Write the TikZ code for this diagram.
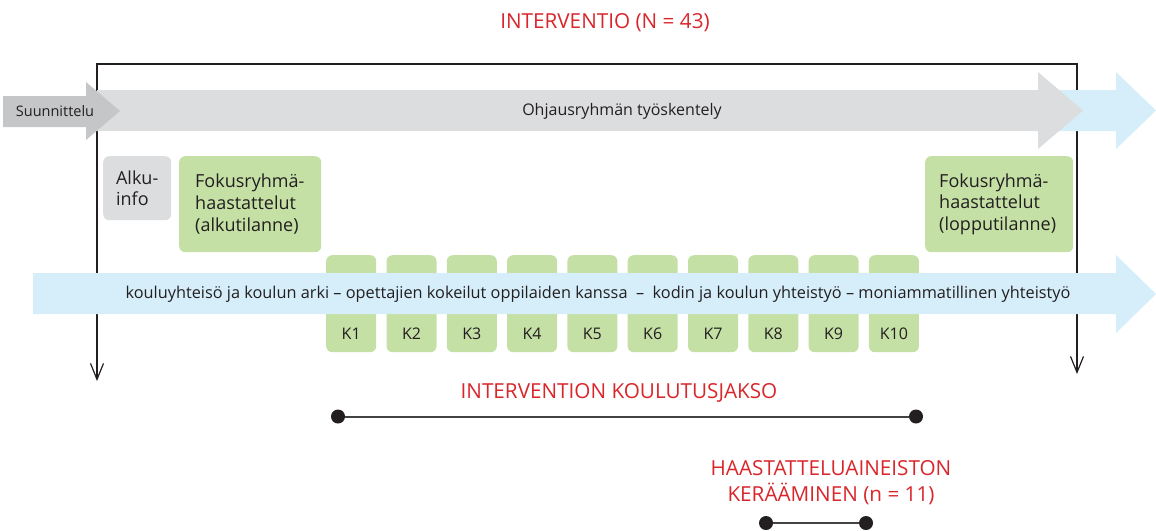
\documentclass[tikz,border=0pt]{standalone}
\usepackage{fontspec}
\setmainfont{Open Sans}
\usepackage{xcolor}
\usepackage{tikz}
\usetikzlibrary{positioning}
\usetikzlibrary{arrows.meta}
\definecolor{barGray}{HTML}{DCDDDF}
\definecolor{planGray}{HTML}{C5C6C8}
\definecolor{skyBlue}{HTML}{D5EEF9}
\definecolor{kGreen}{HTML}{C5E0A5}
\definecolor{titleRed}{HTML}{D9262B}
\definecolor{inkGray}{HTML}{231F20}
\tikzset{frame/.style = {line width=1.2pt,draw=inkGray,{Straight Barb[length=16pt,width=13pt]}-{Straight Barb[length=16pt,width=13pt]}}}

\begin{document}
\begin{tikzpicture}[x=1pt,y=-1pt,
  txt/.style={inner sep=0pt,text=inkGray,font=\fontsize{16}{19}\selectfont},
  redtxt/.style={inner sep=0pt,text=titleRed,anchor=base,align=center,font=\fontsize{20.7}{25}\selectfont},
  box/.style={rounded corners=6pt,inner ysep=0pt,anchor=north west,align=left,text=inkGray,font=\fontsize{18}{21.7}\selectfont},
  kbox/.style={fill=kGreen,rounded corners=6pt,minimum width=50pt,minimum height=97pt,anchor=north west,inner sep=0pt},
  dot/.style={circle,fill=inkGray,minimum size=14pt,inner sep=0pt},
  span/.style={line width=2pt,draw=inkGray!85}]

\useasboundingbox (0,0) rectangle (1156,530);

% frame of the intervention
\coordinate (fl) at (97,381);
\coordinate (tl) at (97,64);
\coordinate (tr) at (1077,64);
\coordinate (fr) at (1077,374);
\draw[frame] (fl) -- (tl) -- (tr) -- (fr);

% steering group arrows
\fill[skyBlue] (1040,90) -- (1116,90) -- (1116,72) -- (1156,110.5) -- (1116,149) -- (1116,131) -- (1040,131) -- cycle;
\fill[barGray] (97,90) -- (1038,90) -- (1038,72) -- (1083,110.5) -- (1038,149) -- (1038,131) -- (97,131) -- cycle;
\fill[planGray] (3,96) -- (86,96) -- (86,82) -- (120,111) -- (86,140) -- (86,127) -- (3,127) -- cycle;
\node[txt] (ohj) at (622,111) {Ohjausryhmän työskentely};
\node[txt,font=\fontsize{14.5}{17}\selectfont] (suun) at (55,111) {Suunnittelu};

% interviews
\node[box,fill=barGray,minimum height=64pt,minimum width=68pt,inner xsep=0pt] (alku) at (103,156) {Alku-\\info};
\node[box,fill=kGreen,minimum height=96pt,text width=110pt,inner xsep=16pt] (fokA) at (179,156) {Fokusryhmä-\\haastattelut\\(alkutilanne)};
\node[box,fill=kGreen,minimum height=96pt,text width=120pt,inner xsep=14pt] (fokL) at (925,156) {Fokusryhmä-\\haastattelut\\(lopputilanne)};

% training sessions
\foreach \i in {1,...,10}
  \node[kbox] (k\i) at ({326+(\i-1)*60.3},255) {};
\fill[skyBlue] (33,273) -- (1116,273) -- (1116,255) -- (1156,294) -- (1116,333) -- (1116,314) -- (33,314) -- cycle;
\node[txt,font=\fontsize{16.3}{19}\selectfont] (arki) at (598,294) {kouluyhteisö ja koulun arki – opettajien kokeilut oppilaiden kanssa \ – \ kodin ja koulun yhteistyö – moniammatillinen yhteistyö};
\foreach \i in {1,...,10}
  \node[txt] (kl\i) at ([yshift=19pt]k\i.south) {K\i};

% periods
\node[redtxt] (title) at (605,28) {INTERVENTIO (N = 43)};
\node[redtxt] (jakso) at (619,398) {INTERVENTION KOULUTUSJAKSO};
\node[dot] (js) at (338,416.5) {};
\node[dot] (je) at (916,416.5) {};
\draw[span] (js) -- (je);
\node[redtxt,font=\fontsize{20.7}{26}\selectfont] (haast) at (831,501) {HAASTATTELUAINEISTON\\KERÄÄMINEN (n = 11)};
\node[dot] (hs) at (766,523) {};
\node[dot] (he) at (866,523) {};
\draw[span] (hs) -- (he);
\end{tikzpicture}
\end{document}
